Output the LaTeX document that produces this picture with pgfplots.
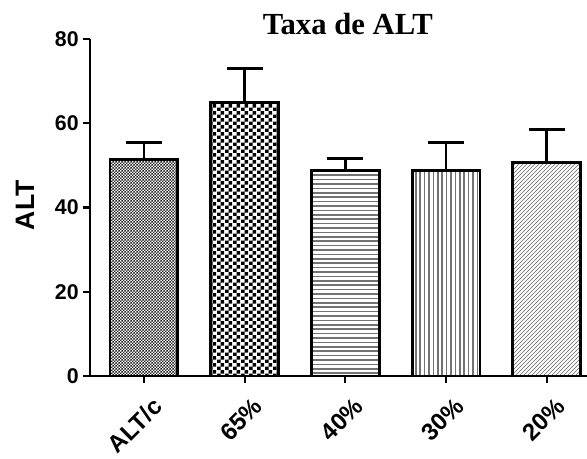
\documentclass[border=0pt]{standalone}
\usepackage{pgfplots}
\pgfplotsset{compat=1.18}
\usepackage{fontspec}
\setmainfont{Liberation Sans}
\newfontfamily\titlefont{Liberation Serif}
\usetikzlibrary{patterns}
\pgfdeclarepatternformonly{bigchecker}{\pgfpointorigin}{\pgfqpoint{5.6pt}{5.6pt}}{\pgfqpoint{5.6pt}{5.6pt}}{%
  \pgfpathrectangle{\pgfpointorigin}{\pgfqpoint{2.8pt}{2.8pt}}%
  \pgfpathrectangle{\pgfqpoint{2.8pt}{2.8pt}}{\pgfqpoint{2.8pt}{2.8pt}}%
  \pgfusepath{fill}}
\pgfdeclarepatternformonly{smallchecker}{\pgfpointorigin}{\pgfqpoint{2.2pt}{2.2pt}}{\pgfqpoint{2.2pt}{2.2pt}}{%
  \pgfpathrectangle{\pgfpointorigin}{\pgfqpoint{1.1pt}{1.1pt}}%
  \pgfpathrectangle{\pgfqpoint{1.1pt}{1.1pt}}{\pgfqpoint{1.1pt}{1.1pt}}%
  \pgfusepath{fill}}
\pgfdeclarepatternformonly{hlinesB}{\pgfqpoint{-1pt}{-1pt}}{\pgfqpoint{10pt}{4pt}}{\pgfqpoint{9pt}{3.3pt}}{%
  \pgfsetlinewidth{1.2pt}%
  \pgfpathmoveto{\pgfqpoint{-1pt}{1.6pt}}\pgfpathlineto{\pgfqpoint{10pt}{1.6pt}}%
  \pgfusepath{stroke}}
\pgfdeclarepatternformonly{vlinesB}{\pgfqpoint{-1pt}{-1pt}}{\pgfqpoint{4pt}{10pt}}{\pgfqpoint{3.3pt}{9pt}}{%
  \pgfsetlinewidth{1.2pt}%
  \pgfpathmoveto{\pgfqpoint{1.6pt}{-1pt}}\pgfpathlineto{\pgfqpoint{1.6pt}{10pt}}%
  \pgfusepath{stroke}}
\begin{document}
\begin{tikzpicture}
\begin{axis}[
  name=ax,
  scale only axis,
  width=372.75pt, height=252.75pt,
  xmin=-0.536, xmax=4.4,
  ymin=0, ymax=80,
  ybar, bar width=0.675, bar shift=0pt,
  axis x line*=bottom, axis y line*=left,
  axis line style={line width=1.6pt},
  xtick={0,1,2,3,4},
  xticklabels={ALT/c,65\%,40\%,30\%,20\%},
  ytick={0,20,40,60,80},
  tick align=outside,
  major tick length=5pt,
  tick style={line width=1.6pt, black},
  ticklabel style={font=\fontsize{16}{18}\selectfont\bfseries},
  /pgf/number format/assume math mode=true,
  xticklabel style={font=\fontsize{18}{20}\selectfont\bfseries, rotate=45, anchor=north east, inner sep=2pt, yshift=-9pt, xshift=-1pt},
  ylabel={ALT},
  ylabel style={font=\fontsize{20}{22}\selectfont\bfseries, at={(rel axis cs:-0.131,0.507)}, anchor=center},
  clip=false,
  every axis plot/.append style={draw=black, line width=2.2pt},
  error bars/y dir=plus, error bars/y explicit,
  error bars/error bar style={line width=2.2pt, black},
  error bars/error mark options={rotate=90, mark size=13.5pt, line width=2.2pt, black},
]
\addplot[pattern=smallchecker, pattern color=black!85] coordinates {(0,51.4) +- (0,4.1)};
\addplot[pattern=bigchecker, pattern color=black] coordinates {(1,65.0) +- (0,7.9)};
\addplot[pattern=hlinesB, pattern color=black!55] coordinates {(2,48.8) +- (0,2.9)};
\addplot[pattern=vlinesB, pattern color=black!55] coordinates {(3,48.8) +- (0,6.7)};
\addplot[pattern=north east lines, pattern color=black!60] coordinates {(4,50.7) +- (0,7.9)};
\node[anchor=base, font=\titlefont\fontsize{23}{26}\selectfont\bfseries] at (rel axis cs:0.519,1.012) {Taxa de ALT};
\end{axis}
\pgfresetboundingbox
\path[use as bounding box] ([shift={(-67.5pt,-62.25pt)}]ax.south west) rectangle ([shift={(372.75pt,282pt)}]ax.south west);
\end{tikzpicture}
\end{document}
